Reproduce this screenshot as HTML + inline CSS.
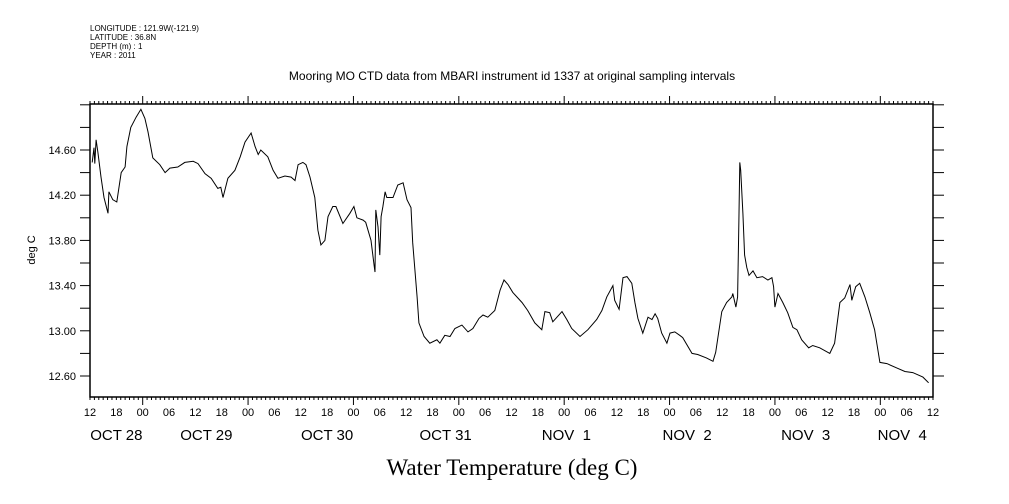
<!DOCTYPE html>
<html><head><meta charset="utf-8"><style>
body{margin:0;background:#fff;}
svg{display:block;font-family:"Liberation Sans",sans-serif;}
</style></head><body>
<svg id="chart" width="1009" height="504" xmlns="http://www.w3.org/2000/svg">
<g font-size="8" fill="#000">
<text x="90" y="31">LONGITUDE : 121.9W(-121.9)</text>
<text x="90" y="40">LATITUDE : 36.8N</text>
<text x="90" y="49">DEPTH (m) : 1</text>
<text x="90" y="58">YEAR : 2011</text>
</g>
<text x="512" y="80" font-size="12" text-anchor="middle">Mooring MO CTD data from MBARI instrument id 1337 at original sampling intervals</text>
<text transform="translate(35,250) rotate(-90)" font-size="11" text-anchor="middle">deg C</text>
<text x="512" y="475" font-family="Liberation Serif, serif" font-size="23" text-anchor="middle">Water Temperature (deg C)</text>
<rect x="90" y="104" width="843" height="293" fill="none" stroke="#000" stroke-width="1.5"/>
<g id="axes"></g>
<path id="series" fill="none" stroke="#000" stroke-width="1"/>
</svg>
<script>
const hours=[0.5,0.9,1.1,1.4,1.8,2.5,3.2,4.1,4.3,5.2,6.1,7.1,8.0,8.4,9.3,10.5,11.6,12.5,13.2,14.3,15.9,17.1,18.2,20.0,21.6,23.5,24.6,26.2,27.6,29.1,29.8,30.3,31.4,33.0,34.2,35.3,36.7,37.6,38.3,38.9,40.5,41.7,42.8,44.4,45.8,46.7,47.4,48.5,49.2,50.1,51.2,51.9,52.6,53.5,54.2,55.3,56.0,57.6,59.2,60.1,60.8,62.2,62.8,64.0,64.7,64.9,65.1,65.6,66.0,66.3,66.7,67.2,67.6,69.0,70.1,71.3,72.2,73.1,73.5,74.5,74.9,76.1,77.4,79.0,79.7,80.8,82.0,83.1,84.7,86.1,87.2,88.6,89.5,90.6,92.2,93.4,94.3,95.2,96.3,98.4,99.7,101.3,102.9,103.6,104.7,105.4,107.5,108.6,109.7,111.6,113.4,115.4,116.6,117.7,119.1,119.5,120.5,121.4,122.3,123.4,124.1,124.8,125.9,127.1,128.0,128.7,129.3,130.2,131.4,132.1,133.2,134.3,135.0,137.1,138.4,140.4,141.9,142.5,143.0,143.9,145.0,146.2,146.4,147.1,147.5,147.8,148.0,148.2,148.7,149.1,149.6,150.1,151.0,151.9,153.2,154.4,155.3,155.7,156.0,156.7,157.8,158.9,160.1,161.0,162.1,163.7,164.6,166.2,168.5,169.6,170.8,171.9,173.1,173.5,174.4,175.3,176.5,177.6,178.7,179.9,181.5,183.8,185.6,187.4,189.7,191.0];
const temps=[14.49,14.62,14.48,14.69,14.58,14.36,14.18,14.04,14.23,14.16,14.14,14.40,14.45,14.63,14.80,14.89,14.96,14.88,14.76,14.53,14.47,14.40,14.44,14.45,14.49,14.50,14.48,14.39,14.35,14.26,14.27,14.18,14.35,14.42,14.54,14.67,14.75,14.63,14.56,14.60,14.54,14.42,14.35,14.37,14.36,14.33,14.47,14.49,14.47,14.36,14.18,13.89,13.76,13.80,14.01,14.10,14.10,13.95,14.04,14.10,14.00,13.98,13.96,13.80,13.58,13.52,14.07,13.92,13.67,14.01,14.10,14.23,14.18,14.18,14.29,14.31,14.16,14.09,13.78,13.30,13.07,12.95,12.89,12.92,12.89,12.96,12.95,13.02,13.05,12.99,13.02,13.11,13.14,13.12,13.18,13.36,13.45,13.41,13.34,13.25,13.18,13.07,13.01,13.17,13.16,13.08,13.17,13.10,13.02,12.95,13.01,13.10,13.18,13.30,13.40,13.27,13.19,13.47,13.48,13.42,13.25,13.11,12.98,13.12,13.10,13.15,13.11,12.98,12.89,12.98,12.99,12.96,12.94,12.80,12.79,12.76,12.73,12.81,12.94,13.17,13.25,13.30,13.33,13.21,13.30,13.98,14.49,14.42,14.04,13.67,13.56,13.49,13.53,13.47,13.48,13.45,13.47,13.39,13.21,13.33,13.25,13.16,13.03,13.01,12.92,12.85,12.87,12.85,12.80,12.89,13.25,13.29,13.41,13.27,13.39,13.42,13.30,13.16,13.01,12.72,12.71,12.67,12.64,12.63,12.59,12.54];
const yTickValues=[12.6,13.0,13.4,13.8,14.2,14.6];
const yTickLabels=["12.60","13.00","13.40","13.80","14.20","14.60"];
const hourLabels=["12","18","00","06","12","18","00","06","12","18","00","06","12","18","00","06","12","18","00","06","12","18","00","06","12","18","00","06","12","18","00","06","12"];
const dayLabels=["OCT 28","OCT 29","OCT 30","OCT 31","NOV  1","NOV  2","NOV  3","NOV  4"];
const dayLabelHours=[6,26.5,54,81,108.5,136,163,185];

const X0=90,X1=933,Y0=104,Y1=397,H=192;
const xs=h=>X0+h*(X1-X0)/H;
const ys=v=>150+(14.6-v)*113;
const NS="http://www.w3.org/2000/svg";
const ax=document.getElementById('axes');
function mk(tag,attrs,txt){const e=document.createElementNS(NS,tag);for(const k in attrs)e.setAttribute(k,attrs[k]);if(txt!==undefined)e.textContent=txt;ax.appendChild(e);return e;}
for(let h=0;h<=H;h++){
  const x=xs(h);const big=((h+12)%24===0);
  const t=mk('line',{x1:x,x2:x,y1:Y0,y2:Y0-(big?8:3),stroke:'#000'});
  
  
  const b=mk('line',{x1:x,x2:x,y1:Y1,y2:Y1+(big?8:3),stroke:'#000'});
  
  
}
hourLabels.forEach((l,i)=>{
  const t=mk('text',{x:xs(i*6),y:416,'font-size':11,'text-anchor':'middle'},l);
  
  
});
dayLabels.forEach((l,i)=>{
  const t=mk('text',{x:xs(dayLabelHours[i]),y:440,'font-size':15,'text-anchor':'middle','xml:space':'preserve'},l);
  t.style.whiteSpace='pre';
  
  
});
for(let v=12.4;v<=15.01;v+=0.2){
  const y=ys(v);if(y<Y0-0.5||y>Y1+0.5)continue;
  const l=mk('line',{x1:X0-10,x2:X0,y1:y,y2:y,stroke:'#000'});
  
  
  const r=mk('line',{x1:X1,x2:X1+11,y1:y,y2:y,stroke:'#000'});
  
  
}
yTickValues.forEach((v,i)=>{
  const t=mk('text',{x:76,y:ys(v)+4,'font-size':11,'text-anchor':'end'},yTickLabels[i]);
  
  
});
document.getElementById('series').setAttribute('d',hours.map((h,i)=>(i?'L':'M')+xs(h).toFixed(1)+','+ys(temps[i]).toFixed(1)).join(''));
</script>
</body></html>
